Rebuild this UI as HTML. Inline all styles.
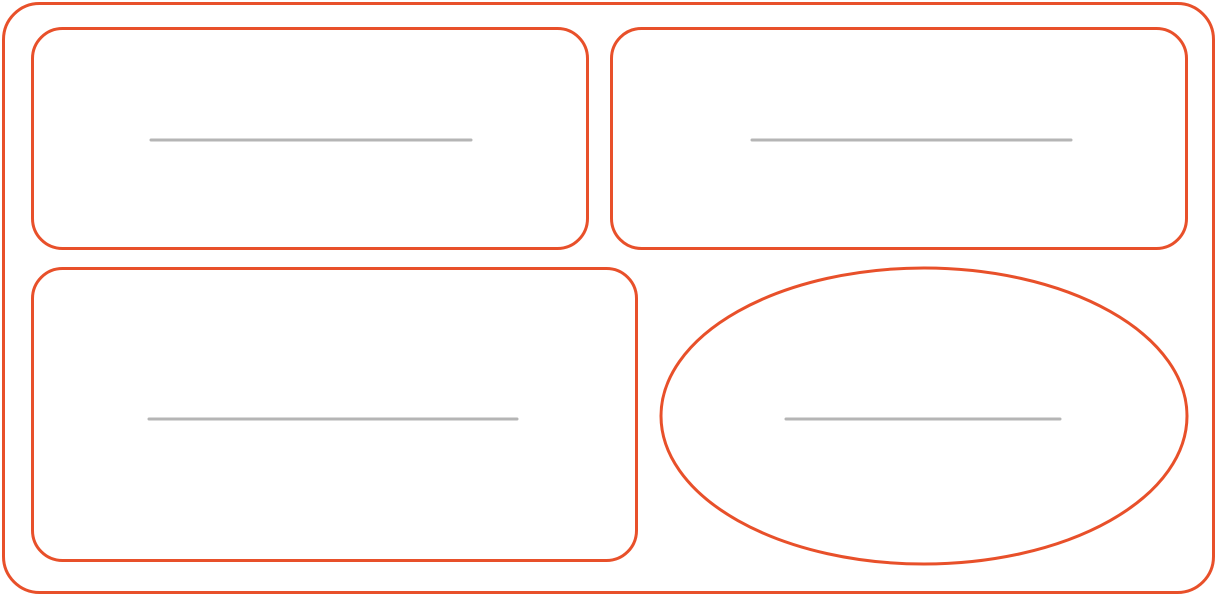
<!DOCTYPE html>
<html>
<head>
<meta charset="utf-8">
<style>
html,body{margin:0;padding:0;background:#fff;}
svg{display:block;}
</style>
</head>
<body>
<svg width="1218" height="596" viewBox="0 0 1218 596">
  <g fill="none" stroke="#e8502a" stroke-width="3" stroke-linejoin="round">
    <rect x="3.5" y="3.5" width="1210" height="589" rx="36" ry="36"/>
    <rect x="32.5" y="28.5" width="555" height="220" rx="30" ry="30"/>
    <rect x="611.5" y="28.5" width="575" height="220" rx="30" ry="30"/>
    <rect x="32.5" y="268.5" width="604" height="292" rx="30" ry="30"/>
    <ellipse cx="924" cy="416" rx="263" ry="148"/>
  </g>
  <g stroke="#b5b5b5" stroke-width="3" stroke-linecap="round">
    <line x1="151" y1="140" x2="471" y2="140"/>
    <line x1="752" y1="140" x2="1071" y2="140"/>
    <line x1="149" y1="419" x2="517" y2="419"/>
    <line x1="786" y1="419" x2="1060" y2="419"/>
  </g>
</svg>
</body>
</html>
